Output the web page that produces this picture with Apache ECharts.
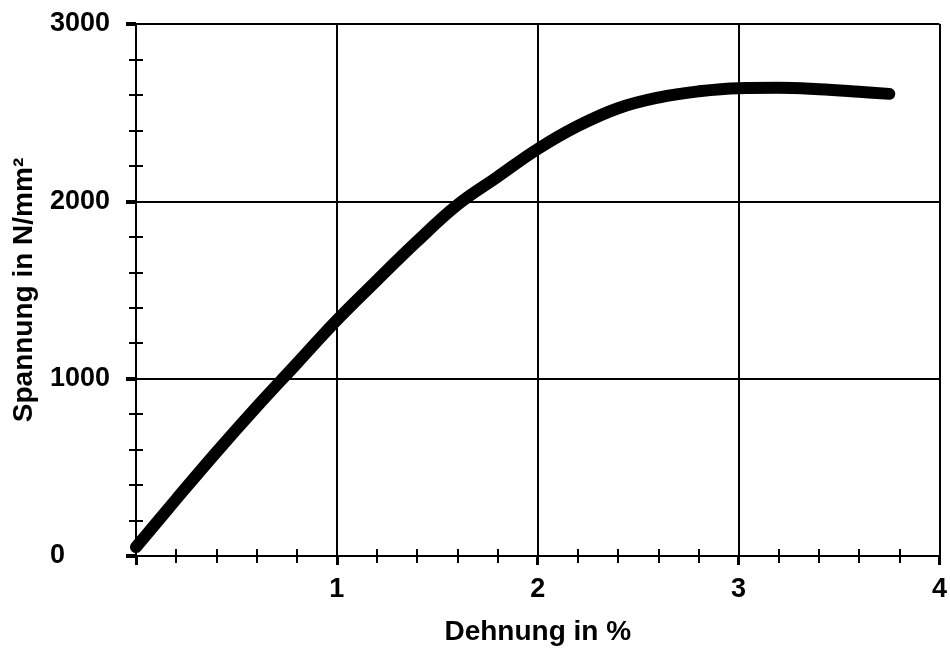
<!DOCTYPE html>
<html>
<head>
<meta charset="utf-8">
<script src="https://cdn.jsdelivr.net/npm/echarts@6/dist/echarts.min.js"></script>
<style>
html,body{margin:0;padding:0;background:#fff;}
#chart{width:950px;height:651px;}
</style>
</head>
<body>
<div id="chart"></div>
<script>
// Dehnung (strain, %) and Spannung (stress, N/mm²)
const strain = [0, 0.2, 0.4, 0.6, 0.8, 1.0, 1.2, 1.4, 1.6, 1.8, 2.0, 2.2, 2.4, 2.6, 2.8, 3.0, 3.2, 3.4, 3.6, 3.75];
const stress = [50, 320, 585, 840, 1085, 1330, 1555, 1775, 1980, 2138, 2295, 2425, 2525, 2585, 2620, 2638, 2640, 2632, 2618, 2606];
const xTicks = [0, 1, 2, 3, 4];
const yTicks = [0, 1000, 2000, 3000];
const xTitle = 'Dehnung in %';
const yTitle = 'Spannung in N/mm²';

const font = '"Liberation Sans", Arial, sans-serif';
const lineStyle = {color: '#000', width: 2};
const TL = 7;

const chart = echarts.init(document.getElementById('chart'));
chart.setOption({
  animation: false,
  backgroundColor: '#fff',
  grid: [
    {left: 136, right: 10, top: 24, bottom: 94}
  ],
  xAxis: [{
    type: 'value', min: xTicks[0], max: xTicks[xTicks.length - 1], interval: 1, position: 'bottom',
    axisLine: {show: true, onZero: false, lineStyle: lineStyle},
    axisTick: {show: true, length: 9, lineStyle: {color: '#000', width: 3}},
    minorTick: {show: true, splitNumber: 5, length: TL, lineStyle: {color: '#000', width: 2}},
    splitLine: {show: true, lineStyle: lineStyle},
    axisLabel: {show: true, margin: 20, fontFamily: font, fontWeight: 'bold', fontSize: 27, color: '#000',
      formatter: v => (v === 0 ? '' : String(v))},
    name: xTitle, nameLocation: 'middle', nameGap: 62,
    nameTextStyle: {fontFamily: font, fontWeight: 'bold', fontSize: 28, color: '#000'}
  }, {
    type: 'value', min: xTicks[0], max: xTicks[xTicks.length - 1], interval: 1, position: 'bottom', offset: -TL,
    axisLine: {show: false, onZero: false},
    axisTick: {show: false},
    minorTick: {show: true, splitNumber: 5, length: TL, lineStyle: {color: '#000', width: 2}},
    splitLine: {show: false},
    axisLabel: {show: false}
  }],
  yAxis: [{
    type: 'value', min: yTicks[0], max: yTicks[yTicks.length - 1], interval: 1000, position: 'left',
    axisLine: {show: true, onZero: false, lineStyle: lineStyle},
    axisTick: {show: true, length: 10, lineStyle: {color: '#000', width: 4}},
    minorTick: {show: true, splitNumber: 5, length: TL, lineStyle: {color: '#000', width: 2}},
    splitLine: {show: true, lineStyle: lineStyle},
    axisLabel: {show: true, margin: 86, align: 'left', fontFamily: font, fontWeight: 'bold', fontSize: 27, color: '#000',
      formatter: v => String(v)},
    name: yTitle, nameLocation: 'middle', nameGap: 98, nameRotate: 90,
    nameTextStyle: {fontFamily: font, fontWeight: 'bold', fontSize: 28, color: '#000'}
  }, {
    type: 'value', min: yTicks[0], max: yTicks[yTicks.length - 1], interval: 1000, position: 'left', offset: -TL,
    axisLine: {show: false, onZero: false},
    axisTick: {show: false},
    minorTick: {show: true, splitNumber: 5, length: TL, lineStyle: {color: '#000', width: 2}},
    splitLine: {show: false},
    axisLabel: {show: false}
  }],
  series: [{
    type: 'line',
    xAxisIndex: 0, yAxisIndex: 0,
    data: strain.map((x, i) => [x, stress[i]]),
    smooth: 0.4,
    showSymbol: false,
    lineStyle: {color: '#000', width: 12, cap: 'round', join: 'round'}
  }, {
    type: 'line', xAxisIndex: 1, yAxisIndex: 1, data: [], showSymbol: false
  }]
});
</script>
</body>
</html>
